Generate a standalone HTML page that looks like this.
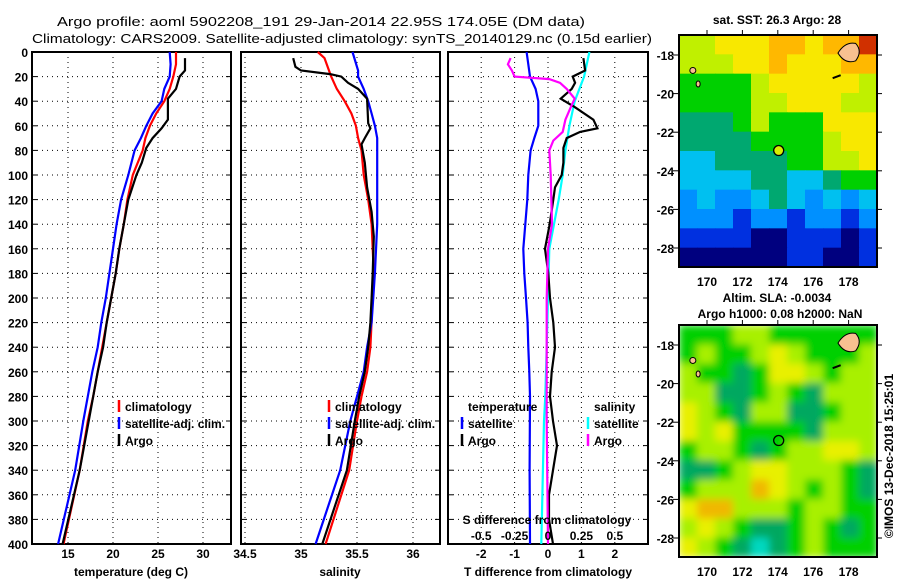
<!DOCTYPE html>
<html><head><meta charset="utf-8"><style>
body{margin:0;background:#fff}
svg{display:block;font-family:"Liberation Sans",sans-serif}
.t{font-size:13px}
.k{font-size:12px;font-weight:bold}
</style></head><body>
<svg id="s" width="900" height="580" viewBox="0 0 900 580" xmlns="http://www.w3.org/2000/svg">
<defs>
<filter id="blur" x="0" y="0" width="1" height="1"><feGaussianBlur stdDeviation="4" edgeMode="duplicate"/></filter>
<clipPath id="c1"><rect x="679" y="35" width="198" height="232"/></clipPath>
<clipPath id="c2"><rect x="679" y="325" width="198" height="232"/></clipPath>
</defs>
<text class="t" x="57" y="26" textLength="528" lengthAdjust="spacingAndGlyphs">Argo profile: aoml 5902208_191 29-Jan-2014 22.95S 174.05E (DM data)</text>
<text class="t" x="32" y="43" textLength="620" lengthAdjust="spacingAndGlyphs">Climatology: CARS2009. Satellite-adjusted climatology: synTS_20140129.nc (0.15d earlier)</text>
<g id="g"></g>
</svg>
<script>
// ---- data ----
const tClimD=[0,10,20,30,40,50,60,70,80,100,120,140,160,180,200,220,240,260,280,300,340,400];
const tClimV=[27.0,27.0,26.7,26.3,25.7,24.8,24.1,23.6,23.3,22.2,21.6,21.2,20.7,20.3,19.8,19.3,18.8,18.3,17.8,17.2,16.3,14.5];
const tSatD=[0,10,20,30,40,50,60,70,80,100,120,140,160,180,200,220,240,260,280,300,340,400];
const tSatV=[26.3,26.4,26.3,25.7,25.4,24.4,23.7,23.1,22.4,21.7,20.9,20.4,20.0,19.6,19.2,18.7,18.3,17.7,17.2,16.7,15.8,13.9];
const tArgoD=[5,15,20,30,38,55,62,70,78,90,100,120,140,160,180,200,220,240,260,280,300,340,400];
const tArgoV=[28.0,28.0,27.4,27.0,26.1,26.1,25.4,24.4,23.7,23.2,22.6,21.7,21.2,20.7,20.3,19.8,19.3,18.9,18.3,17.8,17.3,16.3,14.4];
const sClimD=[0,5,20,30,40,50,60,70,80,100,120,140,180,240,260,280,300,340,400];
const sClimV=[35.15,35.21,35.27,35.32,35.39,35.45,35.49,35.51,35.54,35.56,35.60,35.63,35.65,35.62,35.59,35.54,35.50,35.43,35.22];
const sSatD=[0,15,20,30,40,50,60,70,90,110,140,180,220,240,260,280,300,340,400];
const sSatV=[35.46,35.51,35.51,35.56,35.60,35.63,35.66,35.68,35.68,35.68,35.68,35.66,35.63,35.59,35.56,35.50,35.44,35.35,35.13];
const sArgoD=[5,12,15,18,20,25,30,38,58,62,70,75,90,110,130,150,180,200,220,240,260,280,300,340,400];
const sArgoV=[34.93,34.95,35.0,35.26,35.36,35.42,35.51,35.59,35.60,35.62,35.57,35.54,35.57,35.59,35.63,35.65,35.64,35.63,35.62,35.60,35.57,35.52,35.48,35.41,35.19];
const dtSatD=[0,20,30,40,60,70,80,100,120,140,160,180,200,220,240,260,280,340,400];
const dtSatV=[-0.64,-0.54,-0.37,-0.29,-0.29,-0.41,-0.52,-0.59,-0.62,-0.68,-0.74,-0.71,-0.66,-0.61,-0.59,-0.56,-0.54,-0.55,-0.54];
const dtArgoD=[5,15,20,25,30,38,45,55,62,65,70,78,90,100,110,120,140,160,180,200,220,240,260,280,300,320,340,360,380,400];
const dtArgoV=[1.06,1.11,0.74,0.81,0.71,0.38,0.81,1.36,1.48,0.96,0.56,0.46,0.46,0.41,0.21,0.16,0.05,-0.09,0.01,0.06,0.16,0.21,0.11,0.06,0.15,0.27,0.15,0.03,0.03,0.15];
const dsSatD=[0,20,40,60,80,100,120,140,160,200,240,280,300,400];
const dsSatV=[0.31,0.27,0.20,0.16,0.13,0.11,0.08,0.045,0.01,0.0,-0.01,-0.02,-0.03,-0.05];
const dsArgoD=[5,10,15,20,22,25,30,38,45,55,65,72,80,100,140,160,200,240,300,400];
const dsArgoV=[-0.28,-0.30,-0.27,-0.25,0.01,0.09,0.14,0.20,0.17,0.13,0.11,0.04,0.01,0.02,0.03,0.0,-0.01,-0.01,-0.01,0.0];
const depthTicks=[0,20,40,60,80,100,120,140,160,180,200,220,240,260,280,300,320,340,360,380,400];
const tTicks=[15,20,25,30];
const sTicks=[34.5,35,35.5,36];
const dtTicks=[-2,-1,0,1,2];
const dsTicks=[-0.5,-0.25,0,0.25,0.5];
const latTicks=[-18,-20,-22,-24,-26,-28];
const lonTicks=[170,172,174,176,178];
const sstGrid=[
[6,6,7,7,7,8,8,7,8,8,9],
[6,6,6,7,7,8,7,7,7,8,8],
[5,5,5,5,6,7,7,7,7,7,6],
[5,5,5,5,6,6,7,7,7,6,6],
[4,4,4,5,6,5,5,5,7,7,7],
[4,4,4,4,5,5,5,5,6,7,7],
[3,3,4,4,4,4,5,5,6,6,7],
[3,3,3,3,4,4,3,3,4,5,5],
[2,3,2,2,3,4,3,2,3,2,3],
[2,2,2,1,2,2,1,2,2,1,2],
[1,1,1,1,0,0,1,1,1,0,1],
[0,0,0,0,0,0,1,1,0,0,1]];
const slaGrid=[
[2,2,2,3,3,2,2,2,2,2,2],
[2,3,2,2,3,4,3,2,2,2,3],
[3,2,2,1,2,4,4,3,2,3,3],
[3,3,1,1,2,3,2,1,3,3,3],
[4,3,2,1,3,3,1,1,2,3,3],
[4,3,4,2,2,2,2,1,3,3,3],
[2,3,3,2,1,2,3,3,4,4,3],
[1,1,2,3,4,4,3,3,3,2,1],
[2,3,3,3,5,4,3,2,3,2,1],
[4,5,5,3,3,3,2,3,3,2,2],
[3,4,3,2,1,1,2,3,2,1,2],
[4,3,2,1,0,1,2,3,2,2,2]];
const argoLon=174.05, argoLat=-22.95;
// ---- helpers ----
const NS='http://www.w3.org/2000/svg';
const G=document.getElementById('g');
function mk(tag,at,parent){const e=document.createElementNS(NS,tag);for(const k in at)e.setAttribute(k,at[k]);(parent||G).appendChild(e);return e;}
function txt(x,y,s,cls,anchor,name){const e=mk('text',{x:x,y:y,'class':cls,'text-anchor':anchor||'start'});e.textContent=s;


return e;}
const Y=d=>52+d*1.23;
const X1=t=>32+(t-11)*9;
const X2=s=>301+(s-35)*112;
const X3=v=>548+v*33.4;
const XS=v=>548+v*133.6;
const LX=lon=>707+(lon-170)*17.7;
const LY=(lat,off)=>55+off+(-18-lat)*19.3;
function panel(x0,x1,xf,ticks,name){
  const y0=52,y1=544;
  depthTicks.forEach(d=>{if(d>0&&d<400){const l=mk('line',{x1:x0,x2:x1,y1:Y(d),y2:Y(d),stroke:'#000','stroke-dasharray':'1,4'});
  
  
  mk('line',{x1:x0,x2:x0+5,y1:Y(d),y2:Y(d),stroke:'#000'});mk('line',{x1:x1-5,x2:x1,y1:Y(d),y2:Y(d),stroke:'#000'});}});
  ticks.forEach(t=>{const x=xf(t);const l=mk('line',{x1:x,x2:x,y1:y0,y2:y1,stroke:'#000','stroke-dasharray':'1,4'});
  
  
  txt(x,558,String(t),'k','middle','x-tick-label');});
  const r=mk('rect',{x:x0,y:y0,width:x1-x0,height:y1-y0,fill:'none',stroke:'#000','stroke-width':2});
  
  
}
function line(ds,vs,xf,col,name){
  const p=ds.map((d,i)=>xf(vs[i]).toFixed(1)+','+Y(d).toFixed(1)).join(' ');
  const e=mk('polyline',{points:p,fill:'none',stroke:col,'stroke-width':2.2});
  
  
}
depthTicks.forEach(d=>txt(28,Y(d)+5,String(d),'k','end','y-tick-label'));
panel(32,231,X1,tTicks,'temperature-panel');
panel(241,440,X2,sTicks,'salinity-panel');
panel(448,648,X3,dtTicks,'difference-panel');
line(tClimD,tClimV,X1,'#f00','temp-climatology-line');
line(tSatD,tSatV,X1,'#00f','temp-satellite-line');
line(tArgoD,tArgoV,X1,'#000','temp-argo-line');
line(sClimD,sClimV,X2,'#f00','sal-climatology-line');
line(sSatD,sSatV,X2,'#00f','sal-satellite-line');
line(sArgoD,sArgoV,X2,'#000','sal-argo-line');
line(dtSatD,dtSatV,X3,'#00f','tdiff-satellite-line');
line(dsSatD,dsSatV,XS,'#0ff','sdiff-satellite-line');
line(dtArgoD,dtArgoV,X3,'#000','tdiff-argo-line');
line(dsArgoD,dsArgoV,XS,'#f0f','sdiff-argo-line');
txt(131,576,'temperature (deg C)','k','middle','x-axis-title-temperature');
txt(340,576,'salinity','k','middle','x-axis-title-salinity');
txt(548,576,'T difference from climatology','k','middle','x-axis-title-tdiff');
txt(547,524,'S difference from climatology','k','middle','s-diff-axis-title');
dsTicks.forEach(t=>txt(XS(t),540,String(t),'k','middle','s-diff-tick-label'));
function leg(x,y,col,label,name){mk('line',{x1:x,x2:x,y1:y-11,y2:y+1,stroke:col,'stroke-width':2.5});txt(x+6,y,label,'k','start',name);}
leg(119,411,'#f00','climatology','legend-climatology');
leg(119,428,'#00f','satellite-adj. clim.','legend-satellite');
leg(119,445,'#000','Argo','legend-argo');
leg(329,411,'#f00','climatology','legend-climatology-2');
leg(329,428,'#00f','satellite-adj. clim.','legend-satellite-2');
leg(329,445,'#000','Argo','legend-argo-2');
txt(468,411,'temperature','k','start','legend-temperature-heading');
leg(462,428,'#00f','satellite','legend-t-satellite');
leg(462,445,'#000','Argo','legend-t-argo');
txt(594,411,'salinity','k','start','legend-salinity-heading');
leg(588,428,'#0ff','satellite','legend-s-satellite');
leg(588,445,'#f0f','Argo','legend-s-argo');
const sstCol=['#00007f','#0030e0','#0090ff','#00c0f0','#00a870','#00d000','#c0f000','#f8e800','#ffb800','#d03000'];
const slaCol=['#00d8c0','#00a860','#00d000','#a8f000','#e8f000','#f0b800'];
function map(off,grid,cols,clip,blur,name){
  const gg=mk('g',{'clip-path':'url(#'+clip+')'});
  const inner=mk('g',blur?{filter:'url(#blur)'}:{},gg);
  const cw=198/11,ch=232/12;
  grid.forEach((row,r)=>row.forEach((v,c)=>{const e=mk('rect',{x:679+c*cw,y:35+off+r*ch,width:cw+0.6,height:ch+0.6,fill:cols[v]},inner);
  
  }));
  const fj=mk('path',{d:`M${LX(177.4)},${LY(-17.9,off)} Q${LX(177.8)},${LY(-17.3,off)} ${LX(178.4)},${LY(-17.4,off)} Q${LX(178.8)},${LY(-17.8,off)} ${LX(178.4)},${LY(-18.3,off)} Q${LX(177.8)},${LY(-18.5,off)} ${LX(177.4)},${LY(-17.9,off)}Z`,fill:'#f8c090',stroke:'#000','stroke-width':1},gg);
  
  
  mk('ellipse',{cx:LX(169.2),cy:LY(-18.8,off),rx:3,ry:3,fill:'#f8c090',stroke:'#000'},gg);
  mk('ellipse',{cx:LX(169.5),cy:LY(-19.5,off),rx:2,ry:3,fill:'#f8c090',stroke:'#000'},gg);
  mk('path',{d:`M${LX(177.1)},${LY(-19.2,off)} l8,-3`,stroke:'#000','stroke-width':2},gg);
  const fr=mk('rect',{x:679,y:35+off,width:198,height:232,fill:'none',stroke:'#000','stroke-width':2});
  
  
  latTicks.forEach(l=>{const y=LY(l,off);mk('line',{x1:673,x2:679,y1:y,y2:y,stroke:'#000'});mk('line',{x1:877,x2:882,y1:y,y2:y,stroke:'#000'});txt(674,y+5,String(l),'k','end','lat-tick-label');});
  lonTicks.forEach(l=>{const x=LX(l);mk('line',{x1:x,x2:x,y1:30+off,y2:35+off,stroke:'#000'});txt(x,286+off,String(l),'k','middle','lon-tick-label');});
  const m=mk('circle',{cx:LX(argoLon),cy:LY(argoLat,off),r:5,fill:blur?'none':'#d8f000',stroke:'#000','stroke-width':1.3});
  
  
}
map(0,sstGrid,sstCol,'c1',false,'sst-map');
map(290,slaGrid,slaCol,'c2',true,'sla-map');
txt(777,24,'sat. SST: 26.3 Argo: 28','k','middle','sst-map-title');
txt(777,302,'Altim. SLA: -0.0034','k','middle','sla-map-title');
txt(780,318,'Argo h1000: 0.08 h2000: NaN','k','middle','sla-map-subtitle');
const cr=txt(0,0,'©IMOS 13-Dec-2018 15:25:01','k','middle','imos-credit');
cr.setAttribute('transform','translate(893,456) rotate(-90)');
</script>
</body></html>
